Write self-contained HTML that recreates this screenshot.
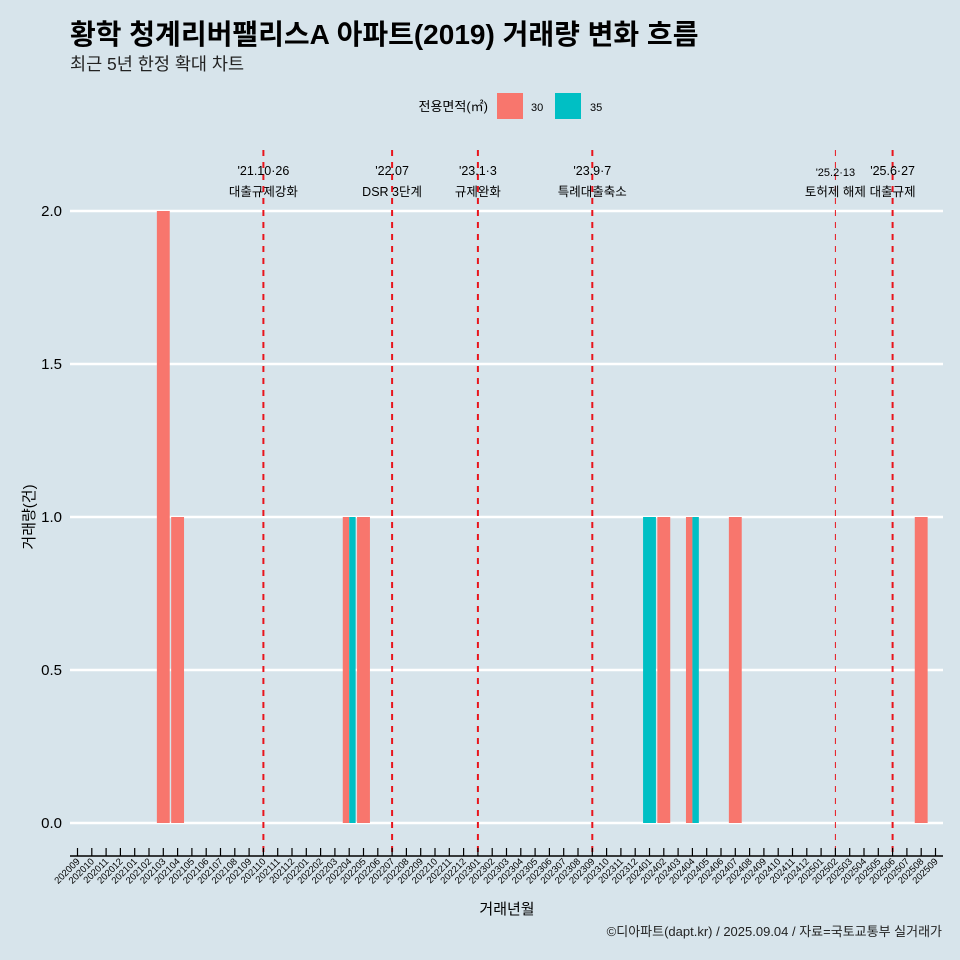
<!DOCTYPE html>
<html><head><meta charset="utf-8"><style>
body{margin:0;background:#d7e4eb;}
svg{display:block;font-family:"Liberation Sans","Noto Sans CJK KR",sans-serif;}
</style></head><body>
<svg id="chart" width="960" height="960" viewBox="0 0 960 960">
<rect width="960" height="960" fill="#d7e4eb"/>
<text x="70" y="44" font-size="28" font-weight="bold" fill="#000">황학 청계리버팰리스A 아파트(2019) 거래량 변화 흐름</text>
<text x="70" y="70" font-size="17.5" fill="#222">최근 5년 한정 확대 차트</text>
<g>
<text x="488" y="111" font-size="13" text-anchor="end">전용면적(㎡)</text>
<rect x="497" y="93" width="26" height="26" fill="#f8766d"/>
<text x="531" y="111" font-size="11">30</text>
<rect x="555" y="93" width="26" height="26" fill="#00bfc4"/>
<text x="590" y="111" font-size="11">35</text>
</g>
<g id="grid"></g><g id="bars"></g><g id="vlines"></g><g id="axes"></g>
<text x="507" y="914" font-size="15" text-anchor="middle">거래년월</text>
<text transform="translate(34,517) rotate(-90)" font-size="15" text-anchor="middle">거래량(건)</text>
<text x="942" y="936" font-size="13" text-anchor="end" fill="#222">©디아파트(dapt.kr) / 2025.09.04 / 자료=국토교통부 실거래가</text>
</svg>
<script>
const months=[];for(let y=2020,m=9;!(y===2025&&m===10);){months.push(y+String(m).padStart(2,'0'));m++;if(m>12){m=1;y++;}}
const yTicks=[0,0.5,1,1.5,2];
const series30=[["202103",2],["202104",1],["202204",1],["202205",1],["202402",1],["202404",1],["202407",1],["202508",1]];
const series35=[["202204",1],["202401",1],["202404",1]];
const events=[["202110","'21.10·26","대출규제강화"],["202207","'22.07","DSR 3단계"],["202301","'23.1·3","규제완화"],["202309","'23.9·7","특례대출축소"],["202502","'25.2·13","토허제 해제"],["202506","'25.6·27","대출규제"]];
const NS="http://www.w3.org/2000/svg";
const X0=77.5,STEP=14.3;
const xs=k=>X0+months.indexOf(k)*STEP;
const ys=v=>823-v*306;
function mk(tag,attrs,parent,txt){const e=document.createElementNS(NS,tag);for(const k in attrs)e.setAttribute(k,attrs[k]);if(txt!==undefined)e.textContent=txt;document.getElementById(parent).appendChild(e);return e;}
yTicks.forEach(v=>{
 const l=mk('line',{x1:70,x2:943,y1:ys(v),y2:ys(v),stroke:'#fff','stroke-width':2.5},'grid');
 
 
 const t=mk('text',{x:62,y:ys(v)+5,'font-size':15,'text-anchor':'end'},'grid',v.toFixed(1));
 
 
});
const W=STEP*0.9;
const s35=new Set(series35.map(d=>d[0])),s30=new Set(series30.map(d=>d[0]));
series30.forEach(([k,v])=>{const both=s35.has(k);const x=xs(k)-W/2;
 const r=mk('rect',{x:x,y:ys(v),width:both?W/2:W,height:ys(0)-ys(v),fill:'#f8766d'},'bars');
 
 });
series35.forEach(([k,v])=>{const both=s30.has(k);const x=both?xs(k):xs(k)-W/2;
 const r=mk('rect',{x:x,y:ys(v),width:both?W/2:W,height:ys(0)-ys(v),fill:'#00bfc4'},'bars');
 
 });
events.forEach(([k,a,b],i)=>{const x=xs(k);const thin=k==='202502';
 const l=mk('line',{x1:x,x2:x,y1:150,y2:856,stroke:'#e8141c','stroke-width':thin?1:2,'stroke-dasharray':'6,6'},'vlines');
 
 
 const t1=mk('text',{x:x,y:thin?176:175,'font-size':thin?11:12.5,'text-anchor':'middle'},'vlines',a);
 
 
 const t2=mk('text',{x:x,y:196,'font-size':12.5,'text-anchor':'middle'},'vlines',b);
 
 });
const ax=mk('line',{x1:70,x2:943,y1:856,y2:856,stroke:'#000','stroke-width':1.5},'axes');


months.forEach(m=>{const x=X0+months.indexOf(m)*STEP;
 const tk=mk('line',{x1:x,x2:x,y1:848,y2:856,stroke:'#000','stroke-width':1.2},'axes');
 
 
 const t=mk('text',{transform:`translate(${x+3},862) rotate(-45)`,'font-size':9.5,'text-anchor':'end'},'axes',m);
 
 });
</script>
</body></html>
